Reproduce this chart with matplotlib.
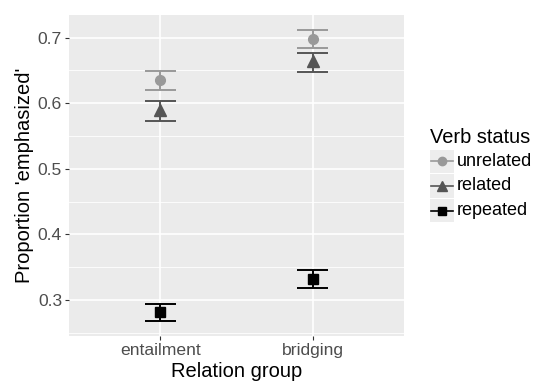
"""Point + error bar chart of emphasis proportion by relation group."""

import matplotlib
matplotlib.use("Agg")
import matplotlib.pyplot as plt
from matplotlib.patches import Rectangle

plt.rcParams["font.family"] = ["Liberation Sans", "DejaVu Sans"]

groups = ["entailment", "bridging"]
statuses = ["unrelated", "related", "repeated"]

means = {
    "unrelated": [0.6355, 0.698],
    "related": [0.589, 0.6645],
    "repeated": [0.281, 0.332],
}
upper = {
    "unrelated": [0.6497, 0.711],
    "related": [0.6035, 0.676],
    "repeated": [0.2944, 0.3457],
}
lower = {
    "unrelated": [0.620, 0.685],
    "related": [0.5725, 0.648],
    "repeated": [0.268, 0.318],
}
yticks = [0.3, 0.4, 0.5, 0.6, 0.7]

colors = {"unrelated": "#999999", "related": "#555555", "repeated": "#000000"}
markers = {"unrelated": "o", "related": "^", "repeated": "s"}
msizes = {"unrelated": 7, "related": 8, "repeated": 6.5}

W, H = 534, 381
fig = plt.figure(figsize=(W / 100, H / 100), dpi=100)
ax = fig.add_axes([69 / W, 45 / H, 335 / W, 321 / H])
ax.set_facecolor("#ebebeb")
for s in ax.spines.values():
    s.set_visible(False)

# grid
for v in [0.25, 0.35, 0.45, 0.55, 0.65]:
    ax.axhline(v, color="white", lw=0.6, zorder=0)
for v in yticks:
    ax.axhline(v, color="white", lw=1.2, zorder=0)
for i in range(len(groups)):
    ax.axvline(i, color="white", lw=1.2, zorder=0)

half = 0.1
for st in statuses:
    c = colors[st]
    for i in range(len(groups)):
        ax.vlines(i, lower[st][i], upper[st][i], color=c, lw=1.4, zorder=2)
        ax.hlines([lower[st][i], upper[st][i]], i - half, i + half,
                  color=c, lw=1.4, zorder=2)
    ax.plot(range(len(groups)), means[st], ls="none", marker=markers[st],
            ms=msizes[st], color=c, mec=c, zorder=3)

ax.set_xlim(-0.6, 1.6)
ax.set_ylim(0.245, 0.7346)
ax.set_xticks(range(len(groups)))
ax.set_xticklabels(groups)
ax.set_yticks(yticks)
ax.set_yticklabels([f"{v:.1f}" for v in yticks])
ax.tick_params(colors="#333333", labelcolor="#4d4d4d", labelsize=12.6,
               length=3, width=0.8, pad=2)
ax.set_xlabel("Relation group", fontsize=14.5, labelpad=3)
ax.set_ylabel("Proportion 'emphasized'", fontsize=14.5, labelpad=3)

# legend
fig.text(430 / W, 1 - 143 / H, "Verb status", fontsize=14.4, va="baseline")
lax = fig.add_axes([430 / W, 1 - 223 / H, 24 / W, 74 / H])
lax.set_xlim(0, 1)
lax.set_ylim(0, 3)
lax.axis("off")
for k, st in enumerate(statuses):
    y = 2.5 - k
    lax.add_patch(Rectangle((0.02, y - 0.47), 0.96, 0.94,
                            facecolor="#ededed", edgecolor="none"))
    lax.plot([0.05, 0.95], [y, y], color=colors[st], lw=1.2)
    lax.plot([0.5], [y], marker=markers[st], ms=msizes[st] - 1,
             color=colors[st], ls="none")
    fig.text(457 / W, 1 - (149 + (k + 0.5) * 74 / 3) / H, st,
             fontsize=13, va="center", color="#000000")

fig.savefig("out.png", dpi=100)
